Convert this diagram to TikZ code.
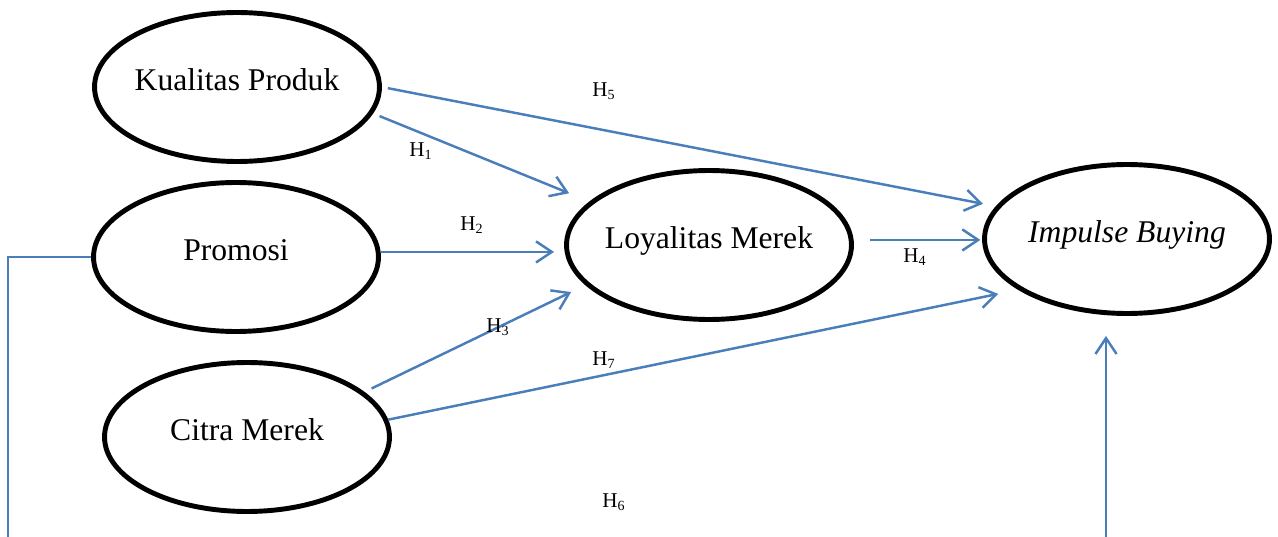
\documentclass[tikz,border=0pt]{standalone}
\usepackage{fontspec}
\setmainfont{Liberation Serif}
\usepackage{tikz}
\usetikzlibrary{arrows.meta}
\usetikzlibrary{shapes.geometric}

\definecolor{linkblue}{RGB}{74,126,187}

\begin{document}
\begin{tikzpicture}[x=0.02cm, y=-0.02cm, >={Straight Barb[length=9pt,width=12pt]},
        var/.style={ellipse, draw, line width=2.8pt, minimum width=5.7cm, minimum height=2.98cm,
            inner xsep=-6pt, inner ysep=0pt, text height=12.6pt, text depth=8.6pt,
            font=\fontsize{18}{22}\selectfont},
        link/.style={->, draw=linkblue, line width=1.4pt},
        hyp/.style={font=\fontsize{12}{14}\selectfont}]
        \useasboundingbox (0,0) rectangle (1278,537);
        \clip (0,0) rectangle (1278,537);

        \node[var] (kp) at (237,87) {Kualitas Produk};
        \node[var] (pr) at (236,257) {Promosi};
        \node[var] (cm) at (247,437) {Citra Merek};
        \node[var] (lm) at (709,245) {Loyalitas Merek};
        \node[var] (ib) at (1127,239) {\textit{Impulse Buying}};

        \coordinate (lb) at (8,560);

        \draw[link, shorten <=3.4pt, shorten >=7.4pt] (kp.east) -- (ib.166);
        \draw[link, shorten <=4pt, shorten >=12.5pt] (kp.-11) -- (lm.160);
        \draw[link, shorten >=5.7pt] (pr.2) -- (pr.2 -| lm.west);
        \draw[link, shorten <=4.5pt, shorten >=9pt] (cm.21) -- (lm.198);
        \draw[link, shorten <=9.6pt, shorten >=1pt] (lm.2) -- (lm.2 -| ib.west);
        \draw[link, shorten >=11.6pt] (cm.7) -- (ib.205);
        \draw[link] (pr.west) -| (lb) -| ([shift={(-21,20)}]ib.south);

        \node[hyp] (h1) at (421,151) {H\textsubscript{1}};
        \node[hyp] (h2) at (472,225) {H\textsubscript{2}};
        \node[hyp] (h3) at (498,327) {H\textsubscript{3}};
        \node[hyp] (h4) at (915,257) {H\textsubscript{4}};
        \node[hyp] (h5) at (604,91) {H\textsubscript{5}};
        \node[hyp] (h6) at (614,502) {H\textsubscript{6}};
        \node[hyp] (h7) at (604,360) {H\textsubscript{7}};
\end{tikzpicture}
\end{document}
